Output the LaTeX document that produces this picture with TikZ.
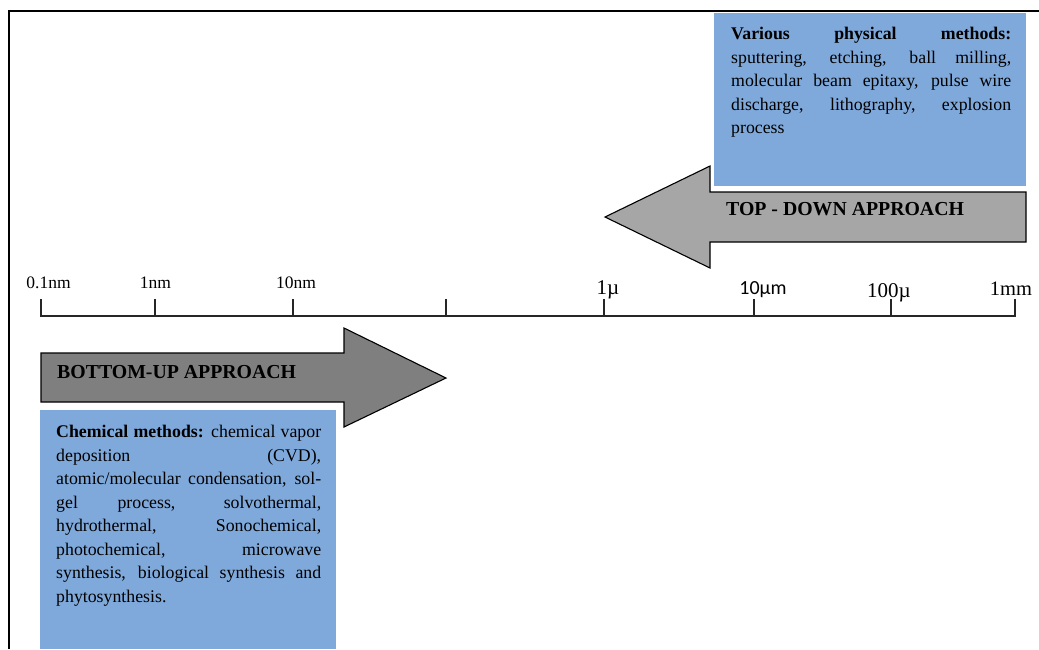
\documentclass[tikz,border=0pt]{standalone}
\usepackage{fontspec}
\setmainfont{Liberation Serif}
\newfontfamily\calfont{Carlito}
\tolerance=10000
\hyphenpenalty=10000
\definecolor{boxblue}{RGB}{127,169,219}
\definecolor{lightarrow}{RGB}{166,166,166}
\definecolor{darkarrow}{RGB}{127,127,127}
\tikzset{
  framestyle/.style={line width=2pt, black},
  methodbox/.style={fill=boxblue, draw=none},
  methodtext/.style={anchor=north west, inner sep=0pt, text width=#1, align=justify,
    font=\fontsize{17.8}{23.5}\selectfont},
  bigarrow/.style={draw=black, line width=1.1pt, line join=miter},
  arrowlabel/.style={anchor=base west, inner sep=0pt, font=\fontsize{19.8}{22}\selectfont\bfseries},
  axisline/.style={line width=1.3pt, black!85},
  scalelabel/.style={anchor=base, inner sep=0pt, font=\fontsize{17.5}{20}\selectfont},
  biglabel/.style={anchor=base, inner sep=0pt, font=\fontsize{21}{24}\selectfont},
}
\begin{document}
\begin{tikzpicture}[x=1pt,y=-1pt]
\useasboundingbox (0,0) rectangle (1039,649);
\fill[white] (0,0) rectangle (1039,649);
% frame
\draw[framestyle] (1039,11) -- (9,11) -- (9,649);

% top-down part
\fill[methodbox] (714,13) rectangle (1026,186);
\node[methodtext=280pt] (phys) at (731,27)
  {\textbf{Various physical methods:}\linebreak sputtering, etching, ball milling,\linebreak molecular beam epitaxy, pulse wire\linebreak discharge, lithography, explosion\linebreak process};
\filldraw[bigarrow, fill=lightarrow] (1026,192) -- (710,192) -- (710,166) -- (605,217)
  -- (710,268) -- (710,242) -- (1026,242) -- cycle;
\node[arrowlabel] (tdlabel) at (726,215) {TOP - DOWN APPROACH};

% scale axis
\draw[axisline] (41,299) -- (41,316) -- (1015,316) -- (1015,299);
\foreach \tx in {155,293,446,604,754,891}
  \draw[axisline] (\tx,299) -- (\tx,316);
\node[scalelabel] (l01) at (48.5,288) {0.1nm};
\node[scalelabel] (l1) at (155.5,288) {1nm};
\node[scalelabel] (l10) at (296,288) {10nm};
\node[biglabel] (lmu) at (608,294) {1µ};
\node[anchor=base, inner sep=0pt, font=\fontsize{20}{24}\selectfont\calfont] (l10mu) at (763,294) {10µm};
\node[biglabel] (l100mu) at (889,297) {100µ};
\node[biglabel, font=\fontsize{20.5}{24}\selectfont] (lmm) at (1011,295) {1mm};

% bottom-up part
\filldraw[bigarrow, fill=darkarrow] (41,353) -- (344,353) -- (344,328) -- (446,378)
  -- (344,427) -- (344,402) -- (41,402) -- cycle;
\node[arrowlabel] (bulabel) at (57,378) {BOTTOM-UP APPROACH};
\fill[methodbox] (40,410) rectangle (336,649);
\node[methodtext=265pt] (chem) at (56,425)
  {\textbf{Chemical methods:} chemical vapor\linebreak deposition (CVD),\linebreak atomic/molecular condensation, sol-\linebreak gel process, solvothermal,\linebreak hydrothermal, Sonochemical,\linebreak photochemical, microwave\linebreak synthesis, biological synthesis and\linebreak phytosynthesis.};
\end{tikzpicture}
\end{document}
